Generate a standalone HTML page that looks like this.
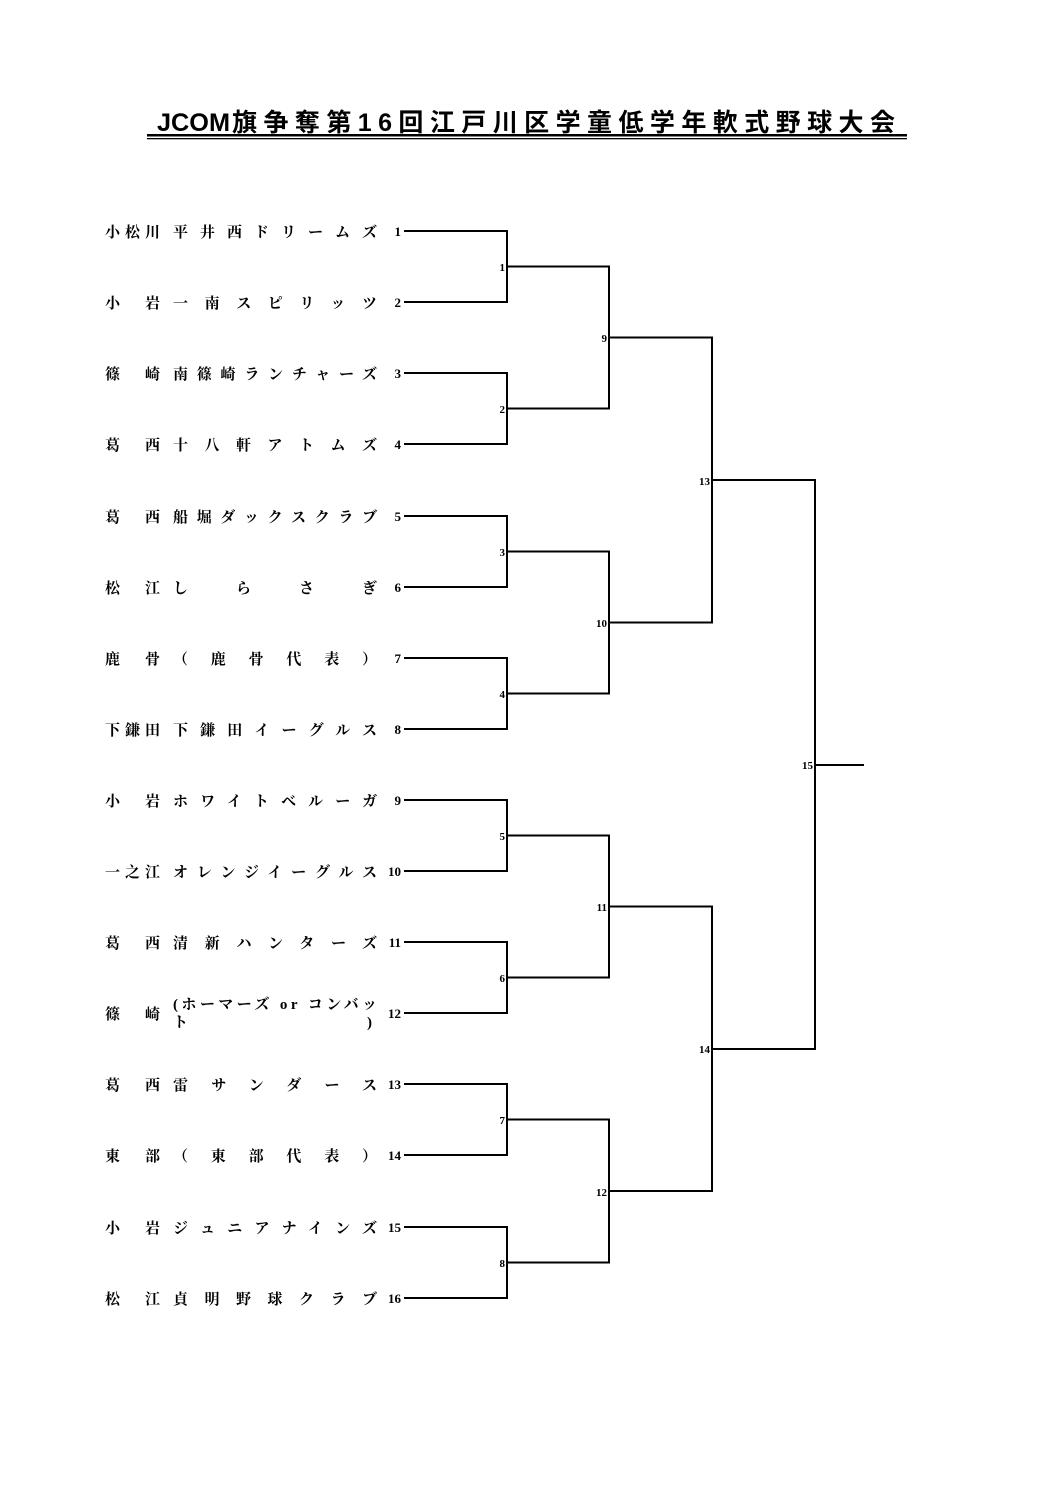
<!DOCTYPE html>
<html><head><meta charset="utf-8"><style>
html,body{margin:0;padding:0;background:#fff;}
svg{display:block;}
text{font-family:"Liberation Serif","Noto Serif CJK SC","Noto Sans CJK JP",serif;fill:#000;}
.t{font-size:15px;font-weight:bold;}
.n{font-size:13px;font-weight:bold;}
.m{font-size:11px;font-weight:600;}
.title{font-family:"Liberation Sans","Noto Sans CJK JP",sans-serif;font-weight:bold;font-size:25px;}
</style></head><body>
<svg width="1058" height="1497" viewBox="0 0 1058 1497" xmlns="http://www.w3.org/2000/svg">
<text class="title" x="157" y="131" textLength="73" lengthAdjust="spacingAndGlyphs">JCOM</text>
<text class="title" x="232" y="131" textLength="663" lengthAdjust="spacing">旗争奪第16回江戸川区学童低学年軟式野球大会</text>
<rect x="147" y="134" width="760" height="2.5" fill="#000"/>
<rect x="147" y="138" width="760" height="1.3" fill="#000"/>

<g class="t">
<text x="105" y="237" textLength="55" lengthAdjust="spacing">小松川</text><text x="173" y="237" textLength="204" lengthAdjust="spacing">平井西ドリームズ</text>
<text x="105" y="308" textLength="55" lengthAdjust="spacing">小岩</text><text x="173" y="308" textLength="204" lengthAdjust="spacing">一南スピリッツ</text>
<text x="105" y="379" textLength="55" lengthAdjust="spacing">篠崎</text><text x="173" y="379" textLength="204" lengthAdjust="spacing">南篠崎ランチャーズ</text>
<text x="105" y="450" textLength="55" lengthAdjust="spacing">葛西</text><text x="173" y="450" textLength="204" lengthAdjust="spacing">十八軒アトムズ</text>
<text x="105" y="522" textLength="55" lengthAdjust="spacing">葛西</text><text x="173" y="522" textLength="204" lengthAdjust="spacing">船堀ダックスクラブ</text>
<text x="105" y="593" textLength="55" lengthAdjust="spacing">松江</text><text x="173" y="593" textLength="204" lengthAdjust="spacing">しらさぎ</text>
<text x="105" y="664" textLength="55" lengthAdjust="spacing">鹿骨</text><text x="173" y="664" textLength="204" lengthAdjust="spacing">（鹿骨代表）</text>
<text x="105" y="735" textLength="55" lengthAdjust="spacing">下鎌田</text><text x="173" y="735" textLength="204" lengthAdjust="spacing">下鎌田イーグルス</text>
<text x="105" y="806" textLength="55" lengthAdjust="spacing">小岩</text><text x="173" y="806" textLength="204" lengthAdjust="spacing">ホワイトベルーガ</text>
<text x="105" y="877" textLength="55" lengthAdjust="spacing">一之江</text><text x="173" y="877" textLength="204" lengthAdjust="spacing">オレンジイーグルス</text>
<text x="105" y="948" textLength="55" lengthAdjust="spacing">葛西</text><text x="173" y="948" textLength="204" lengthAdjust="spacing">清新ハンターズ</text>
<text x="105" y="1019" textLength="55" lengthAdjust="spacing">篠崎</text>
<text x="173" y="1009" textLength="204" lengthAdjust="spacing">(ホーマーズ or コンバッ</text>
<text x="173" y="1027">ト</text><text x="367" y="1027">)</text>
<text x="105" y="1090" textLength="55" lengthAdjust="spacing">葛西</text><text x="173" y="1090" textLength="204" lengthAdjust="spacing">雷サンダース</text>
<text x="105" y="1161" textLength="55" lengthAdjust="spacing">東部</text><text x="173" y="1161" textLength="204" lengthAdjust="spacing">（東部代表）</text>
<text x="105" y="1233" textLength="55" lengthAdjust="spacing">小岩</text><text x="173" y="1233" textLength="204" lengthAdjust="spacing">ジュニアナインズ</text>
<text x="105" y="1304" textLength="55" lengthAdjust="spacing">松江</text><text x="173" y="1304" textLength="204" lengthAdjust="spacing">貞明野球クラブ</text>
</g>

<g class="n" text-anchor="end">
<text x="401" y="236">1</text><text x="401" y="307">2</text><text x="401" y="378">3</text><text x="401" y="449">4</text>
<text x="401" y="521">5</text><text x="401" y="592">6</text><text x="401" y="663">7</text><text x="401" y="734">8</text>
<text x="401" y="805">9</text><text x="401" y="876">10</text><text x="401" y="947">11</text><text x="401" y="1018">12</text>
<text x="401" y="1089">13</text><text x="401" y="1160">14</text><text x="401" y="1232">15</text><text x="401" y="1303">16</text>
</g>

<g class="m" text-anchor="end">
<text x="505" y="271">1</text><text x="505" y="413">2</text><text x="505" y="556">3</text><text x="505" y="698">4</text>
<text x="505" y="840">5</text><text x="505" y="982">6</text><text x="505" y="1124">7</text><text x="505" y="1267">8</text>
<text x="607" y="342">9</text><text x="607" y="627">10</text><text x="607" y="911">11</text><text x="607" y="1196">12</text>
<text x="710" y="485">13</text><text x="710" y="1053">14</text>
<text x="813" y="769">15</text>
</g>

<g stroke="#000" stroke-width="2" fill="none" stroke-linecap="square">
<path d="M405 231H507V302H405M507 266.5H609"/>
<path d="M405 373H507V444H405M507 408.5H609"/>
<path d="M405 516H507V587H405M507 551.5H609"/>
<path d="M405 658H507V729H405M507 693.5H609"/>
<path d="M405 800H507V871H405M507 835.5H609"/>
<path d="M405 942H507V1013H405M507 977.5H609"/>
<path d="M405 1084H507V1155H405M507 1119.5H609"/>
<path d="M405 1227H507V1298H405M507 1262.5H609"/>
<path d="M609 266.5V408.5M609 337.5H712"/>
<path d="M609 551.5V693.5M609 622.5H712"/>
<path d="M609 835.5V977.5M609 906.5H712"/>
<path d="M609 1119.5V1262.5M609 1191H712"/>
<path d="M712 337.5V622.5M712 480H815"/>
<path d="M712 906.5V1191M712 1049H815"/>
<path d="M815 480V1049M815 765H863"/>
</g>
</svg>
</body></html>
